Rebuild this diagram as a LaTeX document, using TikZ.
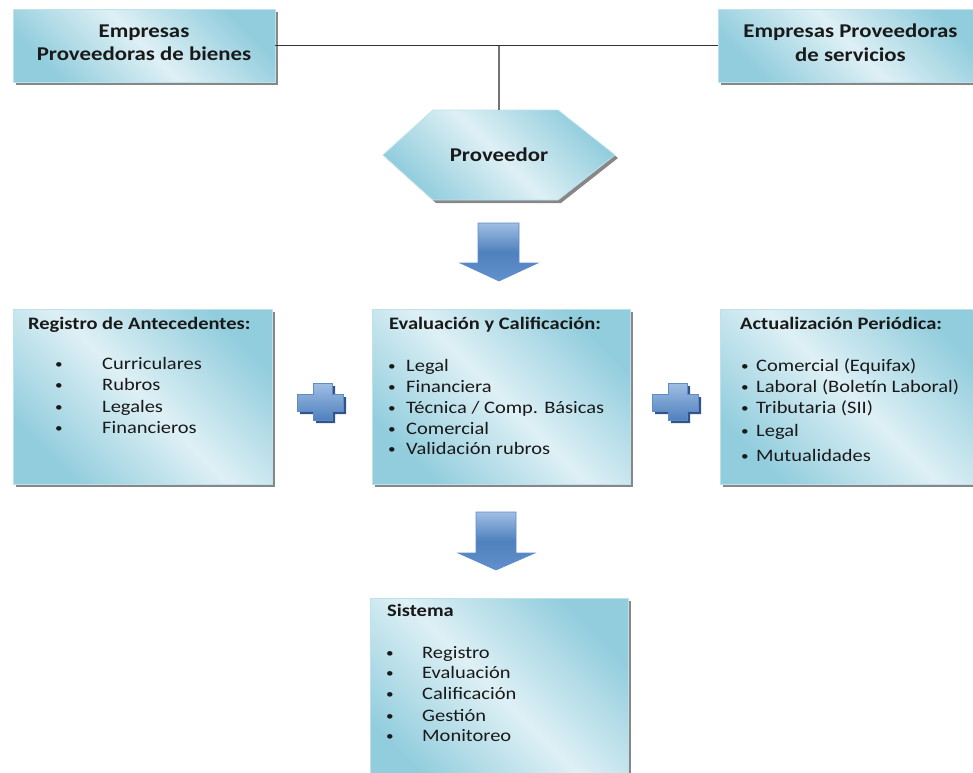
\documentclass[tikz,border=0pt]{standalone}
\usepackage{fontspec}
\setmainfont{Carlito}[FakeStretch=1.17]
\usetikzlibrary{shadows}
\definecolor{boxdark}{RGB}{146,205,221}
\definecolor{boxlight}{RGB}{222,240,245}
\definecolor{boxborder}{RGB}{190,226,236}
\definecolor{shadowgray}{RGB}{135,135,135}
\definecolor{arrowlight}{RGB}{160,190,228}
\definecolor{arrowmid}{RGB}{79,129,189}
\definecolor{arrowlow}{RGB}{98,145,205}
\definecolor{arrowedge}{RGB}{95,140,200}
\definecolor{plusshadow}{RGB}{50,85,135}
\definecolor{txt}{RGB}{25,25,25}
\tikzset{
  panel/.style={draw=boxborder, line width=0.8pt, top color=boxdark, bottom color=boxdark,
    middle color=boxlight, shading angle=-45, inner sep=0pt, text=txt,
    drop shadow={shadow xshift=3pt, shadow yshift=-3pt, fill=shadowgray, opacity=1}},
  hd/.style={anchor=base west, inner sep=0pt, text=txt, font=\bfseries\fontsize{17.5}{21}\selectfont},
  itm/.style={anchor=base west, inner sep=0pt, text=txt, font=\fontsize{17.5}{21}\selectfont},
  bul/.style={anchor=base, inner sep=0pt, text=txt, font=\fontsize{13}{15}\selectfont},
  bigtxt/.style={inner sep=0pt, text=txt, font=\bfseries\fontsize{19.5}{23.5}\selectfont, align=center},
  hline/.style={draw=black!80, line width=1.1pt},
  vline/.style={draw=black!55, line width=1.8pt},
  blockarrow/.style={draw=arrowedge, line width=0.6pt, top color=arrowlight, bottom color=arrowlow, middle color=arrowmid},
  plusshape/.style={draw=arrowedge, line width=0.6pt, top color=arrowlight, bottom color=arrowmid,
    drop shadow={shadow xshift=3pt, shadow yshift=-3pt, fill=plusshadow, opacity=1}}
}
\begin{document}
\begin{tikzpicture}[x=1pt,y=-1pt]
\useasboundingbox (0,0) rectangle (973,772);
\clip (0,0) rectangle (973,772);

% top boxes
\node[panel, minimum width=262, minimum height=73] (bienes) at (144,45.5) {};
\node[bigtxt] (bienestxt) at (144,42.5) {Empresas\\Proveedoras de bienes};
\node[panel, minimum width=265, minimum height=73] (servicios) at (850.5,45.5) {};
\node[bigtxt] (serviciostxt) at (850.5,42.5) {Empresas Proveedoras\\de servicios};

% hexagon
\path[panel] (383,155) -- (433,110) -- (558,110) -- (615,155) -- (558,200) -- (433,200) -- cycle;
\node[bigtxt] (prov) at (499,155) {Proveedor};
\coordinate (provtop) at (499,110);

% connectors
\draw[hline] (bienes.east) -- (servicios.west);
\draw[vline] (provtop) -- (provtop |- bienes.east);

% arrow 1
\path[blockarrow] (478,223) -- (519,223) -- (519,263) -- (538,263) -- (499,281)
  -- (460,263) -- (478,263) -- cycle;

% middle row boxes
\node[panel, minimum width=259, minimum height=175] (reg) at (142.5,396.5) {};
\node[panel, minimum width=258, minimum height=175] (eval) at (501,396.5) {};
\node[panel, minimum width=265, minimum height=175] (act) at (852.5,396.5) {};

% plus signs
\path[plusshape] (313,383) -- (332,383) -- (332,394) -- (343,394) -- (343,411) -- (332,411)
  -- (332,420) -- (313,420) -- (313,411) -- (297,411) -- (297,394) -- (313,394) -- cycle;
\path[plusshape] (668,383) -- (687,383) -- (687,394) -- (698,394) -- (698,411) -- (687,411)
  -- (687,420) -- (668,420) -- (668,411) -- (652,411) -- (652,394) -- (668,394) -- cycle;

% arrow 2
\path[blockarrow] (476,512) -- (516,512) -- (516,553) -- (535,553) -- (496,570)
  -- (458,553) -- (476,553) -- cycle;

% bottom box
\node[panel, minimum width=258, minimum height=192] (sis) at (499,694) {};

% texts: Registro
\node[hd] (reghd) at (28,329) {Registro de Antecedentes:};
\foreach \y/\t [count=\i] in {369/Curriculares, 390/Rubros, 412/Legales, 433/Financieros}{
  \node[bul] (regb\i) at (59,\y-0.5) {•};
  \node[itm] (regt\i) at (102,\y) {\t};
}
% Evaluacion
\node[hd] (evalhd) at (389,329) {Evaluación y Calificación:};
\foreach \y/\t [count=\i] in {371/Legal, 392/Financiera, 413/{Técnica / Comp. Básicas}, 434/Comercial, 454/{Validación rubros}}{
  \node[bul] (evalb\i) at (392,\y-0.5) {•};
  \node[itm] (evalt\i) at (406,\y) {\t};
}
% Actualizacion
\node[hd] (acthd) at (740,329) {Actualización Periódica:};
\foreach \y/\t [count=\i] in {371/{Comercial (Equifax)}, 392/{Laboral (Boletín Laboral)}, 413/{Tributaria (SII)}, 436/Legal, 461/Mutualidades}{
  \node[bul] (actb\i) at (745,\y-0.5) {•};
  \node[itm] (actt\i) at (756,\y) {\t};
}
% Sistema
\node[hd] (sishd) at (387,616) {Sistema};
\foreach \y/\t [count=\i] in {658/Registro, 678/Evaluación, 699/Calificación, 721/Gestión, 741/Monitoreo}{
  \node[bul] (sisb\i) at (390,\y-0.5) {•};
  \node[itm] (sist\i) at (422,\y) {\t};
}
\end{tikzpicture}
\end{document}
